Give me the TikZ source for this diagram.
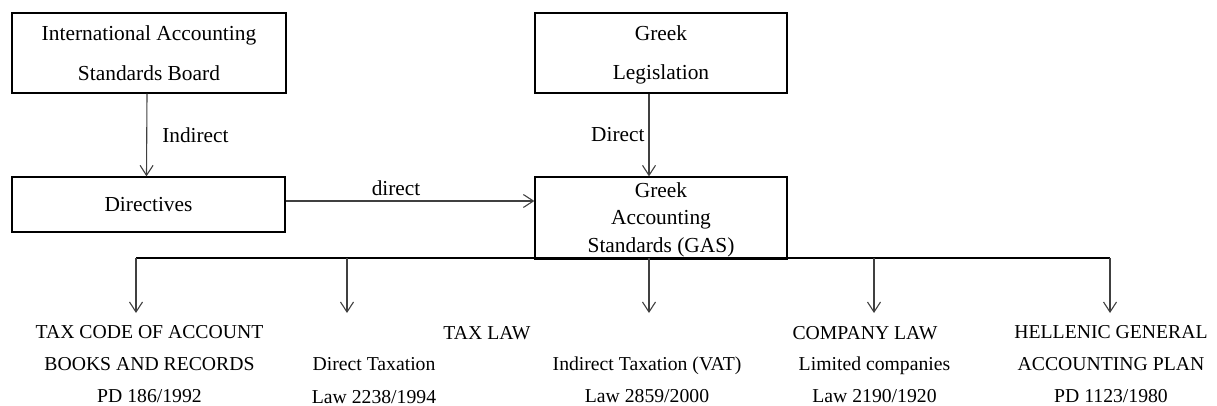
\documentclass[tikz,border=0pt]{standalone}
\usepackage{fontspec}
\setmainfont{Liberation Serif}
\usetikzlibrary{arrows.meta}
\begin{document}
\begin{tikzpicture}[x=1pt,y=-1pt,
  box/.style={draw, line width=1.3pt, inner sep=0pt, align=center},
  bigtxt/.style={font=\fontsize{21.4}{40}\selectfont},
  lbl/.style={font=\fontsize{21.3}{25}\selectfont, inner sep=0pt},
  small/.style={font=\fontsize{19.7}{32.25}\selectfont, inner sep=0pt, align=center},
  arr/.style={draw=black!75, line width=1.1pt, -{Straight Barb[length=10pt,width=13pt]}},
  bus/.style={draw=black, line width=1.3pt}
]
\useasboundingbox (0,0) rectangle (1217,406);

\node[box, bigtxt, minimum width=274pt, minimum height=80pt] (iasb) at (149,53) {International Accounting\\Standards Board};
\node[box, bigtxt, minimum width=273pt, minimum height=55pt] (dir) at (148.5,204.5) {Directives};
\node[box, font=\fontsize{21.4}{39}\selectfont, minimum width=252pt, minimum height=80pt] (gl) at (661,53) {\rule{0pt}{19pt}Greek\\Legislation};
\node[box, font=\fontsize{21.4}{27.5}\selectfont, minimum width=252pt, minimum height=81pt] (gas) at (661,217.5) {\rule{0pt}{19pt}Greek\\Accounting\\Standards (GAS)};

\coordinate (busL) at (136,258);
\coordinate (busR) at (1110,258);
\draw[bus] (busL) -- (busR);
\draw[line width=2.4pt] (gas.south west) -- (gas.south east);

\coordinate (d1) at (136,313);
\coordinate (d2) at (347,313);
\coordinate (d3) at (649,313);
\coordinate (d4) at (874,313);
\coordinate (d5) at (1110,313);
\foreach \n in {d1,d2,d3,d4,d5} { \draw[arr] (\n |- busL) -- (\n); }

\draw[arr] ([xshift=-2pt]iasb.south) -- node[lbl, anchor=west, xshift=15pt] (lind) {Indirect} ([xshift=-2pt]dir.north);
\draw[arr] ([xshift=-12pt]gl.south) -- node[lbl, anchor=east, xshift=-4pt] (ldir) {Direct} ([xshift=-12pt]gas.north);
\draw[arr] ([yshift=3.5pt]dir.east) -- node[lbl, pos=0.444, anchor=base, yshift=5pt] (ldirect) {direct} ([yshift=3.5pt]dir.east -| gas.west);

\node[small] (taxcode) at (149.5,364.25) {TAX CODE OF ACCOUNT\\BOOKS AND RECORDS\\PD 186/1992};
\node[small, anchor=base] (taxlaw) at (487,339) {TAX LAW};
\node[small] (dtax) at (374,380.5) {Direct Taxation\\Law 2238/1994};
\node[small] (itax) at (647,380) {Indirect Taxation (VAT)\\Law 2859/2000};
\node[small, anchor=base] (comp) at (865,339) {COMPANY LAW};
\node[small] (ltd) at (874.5,380) {Limited companies\\Law 2190/1920};
\node[small] (hgap) at (1111,364.25) {HELLENIC GENERAL\\ACCOUNTING PLAN\\PD 1123/1980};
\end{tikzpicture}
\end{document}
